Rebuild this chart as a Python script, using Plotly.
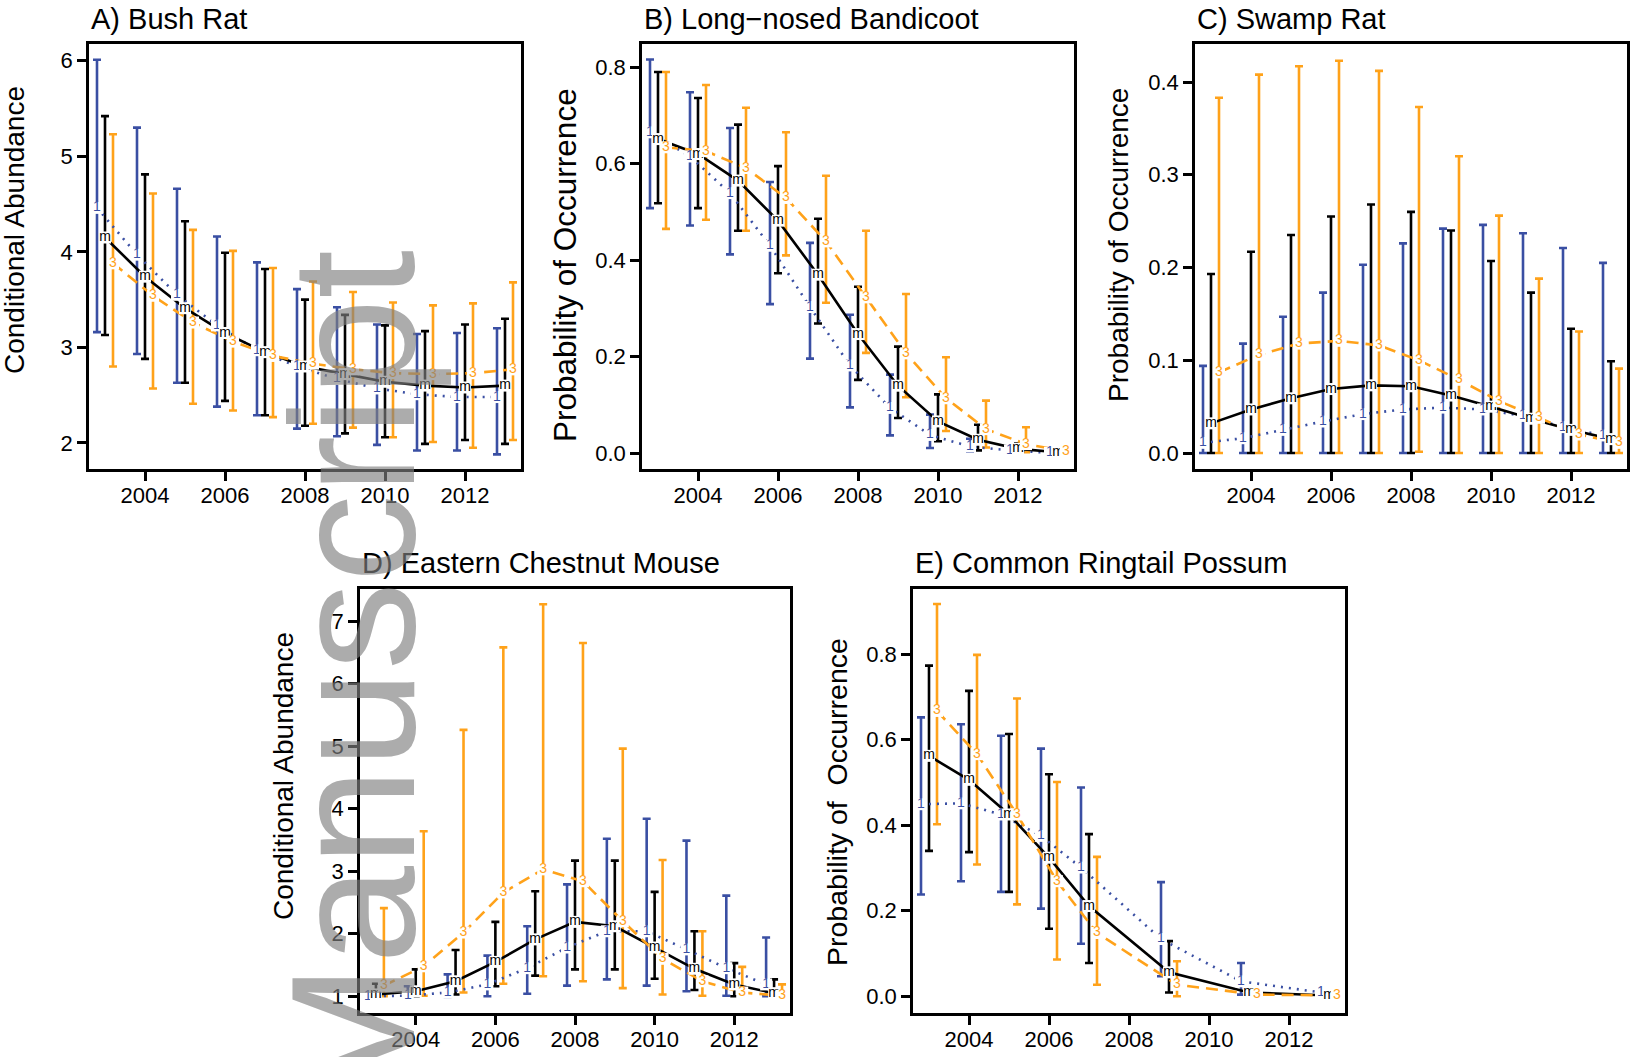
import plotly.graph_objects as go

W, H = 1632, 1057
BLUE = "#3A4FA3"
BLACK = "#000000"
ORANGE = "#FFA21A"

# ---------------- data ----------------
years = [2003, 2004, 2005, 2006, 2007, 2008, 2009, 2010, 2011, 2012, 2013]
years_E = [2003, 2004, 2005, 2006, 2007, 2009, 2011, 2013]

# A) Bush Rat - conditional abundance
A_blue_mean = [4.46, 3.97, 3.55, 3.23, 2.97, 2.80, 2.67, 2.57, 2.51, 2.48, 2.48]
A_blue_lo = [3.16, 2.93, 2.63, 2.38, 2.29, 2.15, 2.07, 1.98, 1.92, 1.92, 1.88]
A_blue_hi = [6.01, 5.30, 4.66, 4.16, 3.89, 3.61, 3.42, 3.24, 3.14, 3.15, 3.20]
A_black_mean = [4.15, 3.74, 3.41, 3.15, 2.95, 2.80, 2.72, 2.64, 2.60, 2.58, 2.60]
A_black_lo = [3.13, 2.88, 2.63, 2.44, 2.29, 2.18, 2.10, 2.06, 1.99, 2.03, 1.99]
A_black_hi = [5.42, 4.81, 4.32, 3.99, 3.82, 3.50, 3.34, 3.23, 3.17, 3.24, 3.30]
A_orange_mean = [3.88, 3.54, 3.26, 3.06, 2.91, 2.83, 2.77, 2.73, 2.72, 2.73, 2.77]
A_orange_lo = [2.80, 2.57, 2.41, 2.34, 2.27, 2.20, 2.16, 2.06, 2.01, 1.95, 2.03]
A_orange_hi = [5.23, 4.61, 4.23, 4.01, 3.83, 3.69, 3.58, 3.47, 3.44, 3.46, 3.68]

# B) Long-nosed Bandicoot - probability of occurrence
B_blue_mean = [0.665, 0.615, 0.539, 0.430, 0.303, 0.182, 0.094, 0.038, 0.014, 0.006, 0.001]
B_blue_lo = [0.508, 0.472, 0.412, 0.309, 0.196, 0.095, 0.037, 0.011, 0.003, 0.001, 0.000]
B_blue_hi = [0.816, 0.748, 0.674, 0.562, 0.436, 0.287, 0.163, 0.080, 0.030, 0.012, 0.003]
B_black_mean = [0.651, 0.620, 0.565, 0.482, 0.370, 0.247, 0.140, 0.066, 0.028, 0.009, 0.002]
B_black_lo = [0.518, 0.508, 0.461, 0.373, 0.269, 0.152, 0.073, 0.025, 0.006, 0.002, 0.000]
B_black_hi = [0.790, 0.736, 0.681, 0.595, 0.486, 0.345, 0.221, 0.122, 0.059, 0.020, 0.005]
B_orange_mean = [0.634, 0.626, 0.591, 0.529, 0.439, 0.323, 0.207, 0.114, 0.050, 0.019, 0.004]
B_orange_lo = [0.465, 0.484, 0.461, 0.410, 0.312, 0.208, 0.116, 0.046, 0.012, 0.002, 0.000]
B_orange_hi = [0.790, 0.763, 0.716, 0.665, 0.575, 0.461, 0.330, 0.199, 0.109, 0.054, 0.010]

# C) Swamp Rat - probability of occurrence
C_blue_mean = [0.011, 0.016, 0.025, 0.034, 0.042, 0.047, 0.049, 0.047, 0.040, 0.028, 0.019]
C_blue_lo = [0.0] * 11
C_blue_hi = [0.094, 0.118, 0.147, 0.173, 0.203, 0.226, 0.242, 0.246, 0.237, 0.221, 0.205]
C_black_mean = [0.032, 0.047, 0.059, 0.069, 0.073, 0.072, 0.062, 0.050, 0.037, 0.025, 0.015]
C_black_lo = [0.0] * 11
C_black_hi = [0.193, 0.217, 0.235, 0.255, 0.268, 0.260, 0.240, 0.207, 0.173, 0.134, 0.099]
C_orange_mean = [0.087, 0.106, 0.118, 0.121, 0.116, 0.100, 0.079, 0.056, 0.038, 0.020, 0.011]
C_orange_lo = [0.0, 0.0, 0.0, 0.0, 0.0, 0.0014, 0.0, 0.0, 0.0, 0.0, 0.0]
C_orange_hi = [0.383, 0.408, 0.417, 0.423, 0.412, 0.373, 0.320, 0.256, 0.188, 0.131, 0.091]

# D) Eastern Chestnut Mouse - conditional abundance
D_blue_mean = [1.00, 1.01, 1.06, 1.19, 1.45, 1.78, 2.04, 2.04, 1.75, 1.45, 1.19]
D_blue_lo = [0.99, 0.99, 0.99, 1.00, 1.04, 1.17, 1.27, 1.17, 1.08, 1.01, 1.00]
D_blue_hi = [1.05, 1.16, 1.35, 1.65, 2.12, 2.79, 3.52, 3.84, 3.49, 2.61, 1.94]
D_black_mean = [1.03, 1.08, 1.24, 1.55, 1.91, 2.19, 2.12, 1.78, 1.44, 1.19, 1.05]
D_black_lo = [0.99, 1.00, 1.03, 1.16, 1.33, 1.43, 1.43, 1.28, 1.10, 1.00, 1.00]
D_black_hi = [1.20, 1.43, 1.74, 2.19, 2.68, 3.17, 3.17, 2.67, 2.04, 1.53, 1.27]
D_orange_mean = [1.17, 1.48, 2.02, 2.66, 3.03, 2.84, 2.20, 1.60, 1.24, 1.06, 1.01]
D_orange_lo = [1.00, 1.01, 1.06, 1.20, 1.32, 1.24, 1.13, 1.03, 1.01, 1.00, 1.00]
D_orange_hi = [2.41, 3.64, 5.26, 6.58, 7.27, 6.65, 4.96, 3.18, 2.04, 1.47, 1.19]

# E) Common Ringtail Possum - probability of occurrence (years_E)
E_blue_mean = [0.449, 0.451, 0.425, 0.375, 0.301, 0.134, 0.035, 0.009]
E_blue_lo = [0.238, 0.269, 0.244, 0.205, 0.123, 0.047, 0.004, None]
E_blue_hi = [0.652, 0.636, 0.609, 0.579, 0.488, 0.267, 0.078, None]
E_black_mean = [0.562, 0.506, 0.425, 0.324, 0.211, 0.056, 0.009, 0.002]
E_black_lo = [0.340, 0.337, 0.244, 0.158, 0.078, 0.009, None, None]
E_black_hi = [0.773, 0.714, 0.613, 0.519, 0.379, 0.129, None, None]
E_orange_mean = [0.667, 0.566, 0.425, 0.269, 0.148, 0.027, 0.004, 0.002]
E_orange_lo = [0.402, 0.308, 0.215, 0.086, 0.027, 0.000, None, None]
E_orange_hi = [0.917, 0.798, 0.696, 0.501, 0.326, 0.082, None, None]

x_ticks = [2004, 2006, 2008, 2010, 2012]

# ---------------- layout geometry ----------------
def px_x(a, b):
    return [a / W, b / W]

def px_y(top, bottom):
    return [1 - bottom / H, 1 - top / H]

panels = [
    dict(key="A", title="A) Bush Rat", ylab="Conditional Abundance", ylab_size=28,
         xd=px_x(89, 521), yd=px_y(44, 469), yr=[1.727, 6.175], yt=[2, 3, 4, 5, 6], fmt="d",
         yrs=years, ylab_x=14, ylab_y=230, title_y=19),
    dict(key="B", title="B) Long\u2212nosed Bandicoot", ylab="Probability of Occurrence", ylab_size=31.5,
         xd=px_x(642, 1074), yd=px_y(44, 469), yr=[-0.0326, 0.848], yt=[0, 0.2, 0.4, 0.6, 0.8], fmt=".1f",
         yrs=years, ylab_x=565, ylab_y=265, title_y=19),
    dict(key="C", title="C) Swamp Rat", ylab="Probability of Occurrence", ylab_size=28,
         xd=px_x(1195, 1627), yd=px_y(44, 469), yr=[-0.0172, 0.441], yt=[0, 0.1, 0.2, 0.3, 0.4], fmt=".1f",
         yrs=years, ylab_x=1119, ylab_y=245, title_y=19),
    dict(key="D", title="D) Eastern Chestnut Mouse", ylab="Conditional Abundance", ylab_size=28,
         xd=px_x(360, 790), yd=px_y(589, 1013), yr=[0.733, 7.513], yt=[1, 2, 3, 4, 5, 6, 7], fmt="d",
         yrs=years, ylab_x=283, ylab_y=776, title_y=563),
    dict(key="E", title="E) Common Ringtail Possum", ylab="Probability of  Occurrence", ylab_size=28.5,
         xd=px_x(913, 1345), yd=px_y(589, 1013), yr=[-0.039, 0.952], yt=[0, 0.2, 0.4, 0.6, 0.8], fmt=".1f",
         yrs=years_E, ylab_x=837, ylab_y=802, title_y=563),
]

series_data = {
    "A": [(A_blue_mean, A_blue_lo, A_blue_hi), (A_black_mean, A_black_lo, A_black_hi), (A_orange_mean, A_orange_lo, A_orange_hi)],
    "B": [(B_blue_mean, B_blue_lo, B_blue_hi), (B_black_mean, B_black_lo, B_black_hi), (B_orange_mean, B_orange_lo, B_orange_hi)],
    "C": [(C_blue_mean, C_blue_lo, C_blue_hi), (C_black_mean, C_black_lo, C_black_hi), (C_orange_mean, C_orange_lo, C_orange_hi)],
    "D": [(D_blue_mean, D_blue_lo, D_blue_hi), (D_black_mean, D_black_lo, D_black_hi), (D_orange_mean, D_orange_lo, D_orange_hi)],
    "E": [(E_blue_mean, E_blue_lo, E_blue_hi), (E_black_mean, E_black_lo, E_black_hi), (E_orange_mean, E_orange_lo, E_orange_hi)],
}

styles = [
    dict(color=BLUE, dash="2px,6px", label="1", offset=-0.2),
    dict(color=BLACK, dash="solid", label="m", offset=0.0),
    dict(color=ORANGE, dash="12px,7px", label="3", offset=0.2),
]

FONT = "Liberation Sans, Arial, Helvetica, sans-serif"

fig = go.Figure()
layout = dict(
    width=W, height=H, margin=dict(l=0, r=0, t=0, b=0),
    paper_bgcolor="white", plot_bgcolor="white", showlegend=False,
    font=dict(family=FONT, color="black"),
)
annotations = []

for i, p in enumerate(panels):
    n = i + 1
    xa = "x" if n == 1 else f"x{n}"
    ya = "y" if n == 1 else f"y{n}"
    sd = series_data[p["key"]]
    yrs = p["yrs"]

    # error bars
    for (mean, lo, hi), st in zip(sd, styles):
        xs = [y + st["offset"] for y in yrs]
        up = [None if h is None else h - m for m, h in zip(mean, hi)]
        dn = [None if l is None else m - l for m, l in zip(mean, lo)]
        fig.add_trace(go.Scatter(
            x=xs, y=mean, mode="markers", xaxis=xa, yaxis=ya,
            marker=dict(size=1, color="rgba(0,0,0,0)"),
            error_y=dict(type="data", array=up, arrayminus=dn, symmetric=False,
                         color=st["color"], thickness=2.6, width=4),
            hoverinfo="skip",
        ))
    # lines
    for (mean, lo, hi), st in zip(sd, styles):
        xs = [y + st["offset"] for y in yrs]
        fig.add_trace(go.Scatter(
            x=xs, y=mean, mode="lines", xaxis=xa, yaxis=ya,
            line=dict(color=st["color"], width=2.6, dash=st["dash"]),
            hoverinfo="skip",
        ))
    # point labels with white background
    for (mean, lo, hi), st in zip(sd, styles):
        xs = [y + st["offset"] for y in yrs]
        fig.add_trace(go.Scatter(
            x=xs, y=mean, mode="markers+text", xaxis=xa, yaxis=ya,
            marker=dict(symbol="square", size=12, color="white", line=dict(width=0)),
            text=[st["label"]] * len(xs), textposition="middle center",
            textfont=dict(family=FONT, size=14, color=st["color"]),
            hoverinfo="skip",
        ))

    axis_common = dict(
        showline=True, mirror=True, linecolor="black", linewidth=2.5,
        ticks="outside", ticklen=9, tickwidth=2.5, tickcolor="black",
        showgrid=False, zeroline=False,
        tickfont=dict(family=FONT, size=22, color="black"),
    )
    layout["xaxis" if n == 1 else f"xaxis{n}"] = dict(
        axis_common, domain=p["xd"], range=[2002.6, 2013.4],
        tickmode="array", tickvals=x_ticks, ticktext=[str(t) for t in x_ticks],
        anchor=ya, ticklabelstandoff=-4,
    )
    layout["yaxis" if n == 1 else f"yaxis{n}"] = dict(
        axis_common, domain=p["yd"], range=p["yr"],
        tickmode="array", tickvals=p["yt"],
        ticktext=[(f"{t:.1f}" if p["fmt"] == ".1f" else str(int(t))) for t in p["yt"]],
        anchor=xa,
    )
    # panel title
    annotations.append(dict(
        text=p["title"], xref="paper", yref="paper",
        x=p["xd"][0], y=1 - p["title_y"] / H, xanchor="left", yanchor="middle",
        showarrow=False, font=dict(family=FONT, size=29, color="black"),
    ))
    # y-axis label
    annotations.append(dict(
        text=p["ylab"], xref="paper", yref="paper",
        x=p["ylab_x"] / W, y=1 - p["ylab_y"] / H, xanchor="center", yanchor="middle",
        textangle=-90, showarrow=False,
        font=dict(family=FONT, size=p["ylab_size"], color="black"),
    ))

# watermark
annotations.append(dict(
    text="Manuscript", xref="paper", yref="paper",
    x=352 / W, y=1 - 248 / H, xanchor="center", yanchor="top",
    textangle=-90, showarrow=False,
    font=dict(family=FONT, size=176, color="rgba(128,128,128,0.65)"),
))

layout["annotations"] = annotations
fig.update_layout(**layout)
fig.write_html("out.html")
